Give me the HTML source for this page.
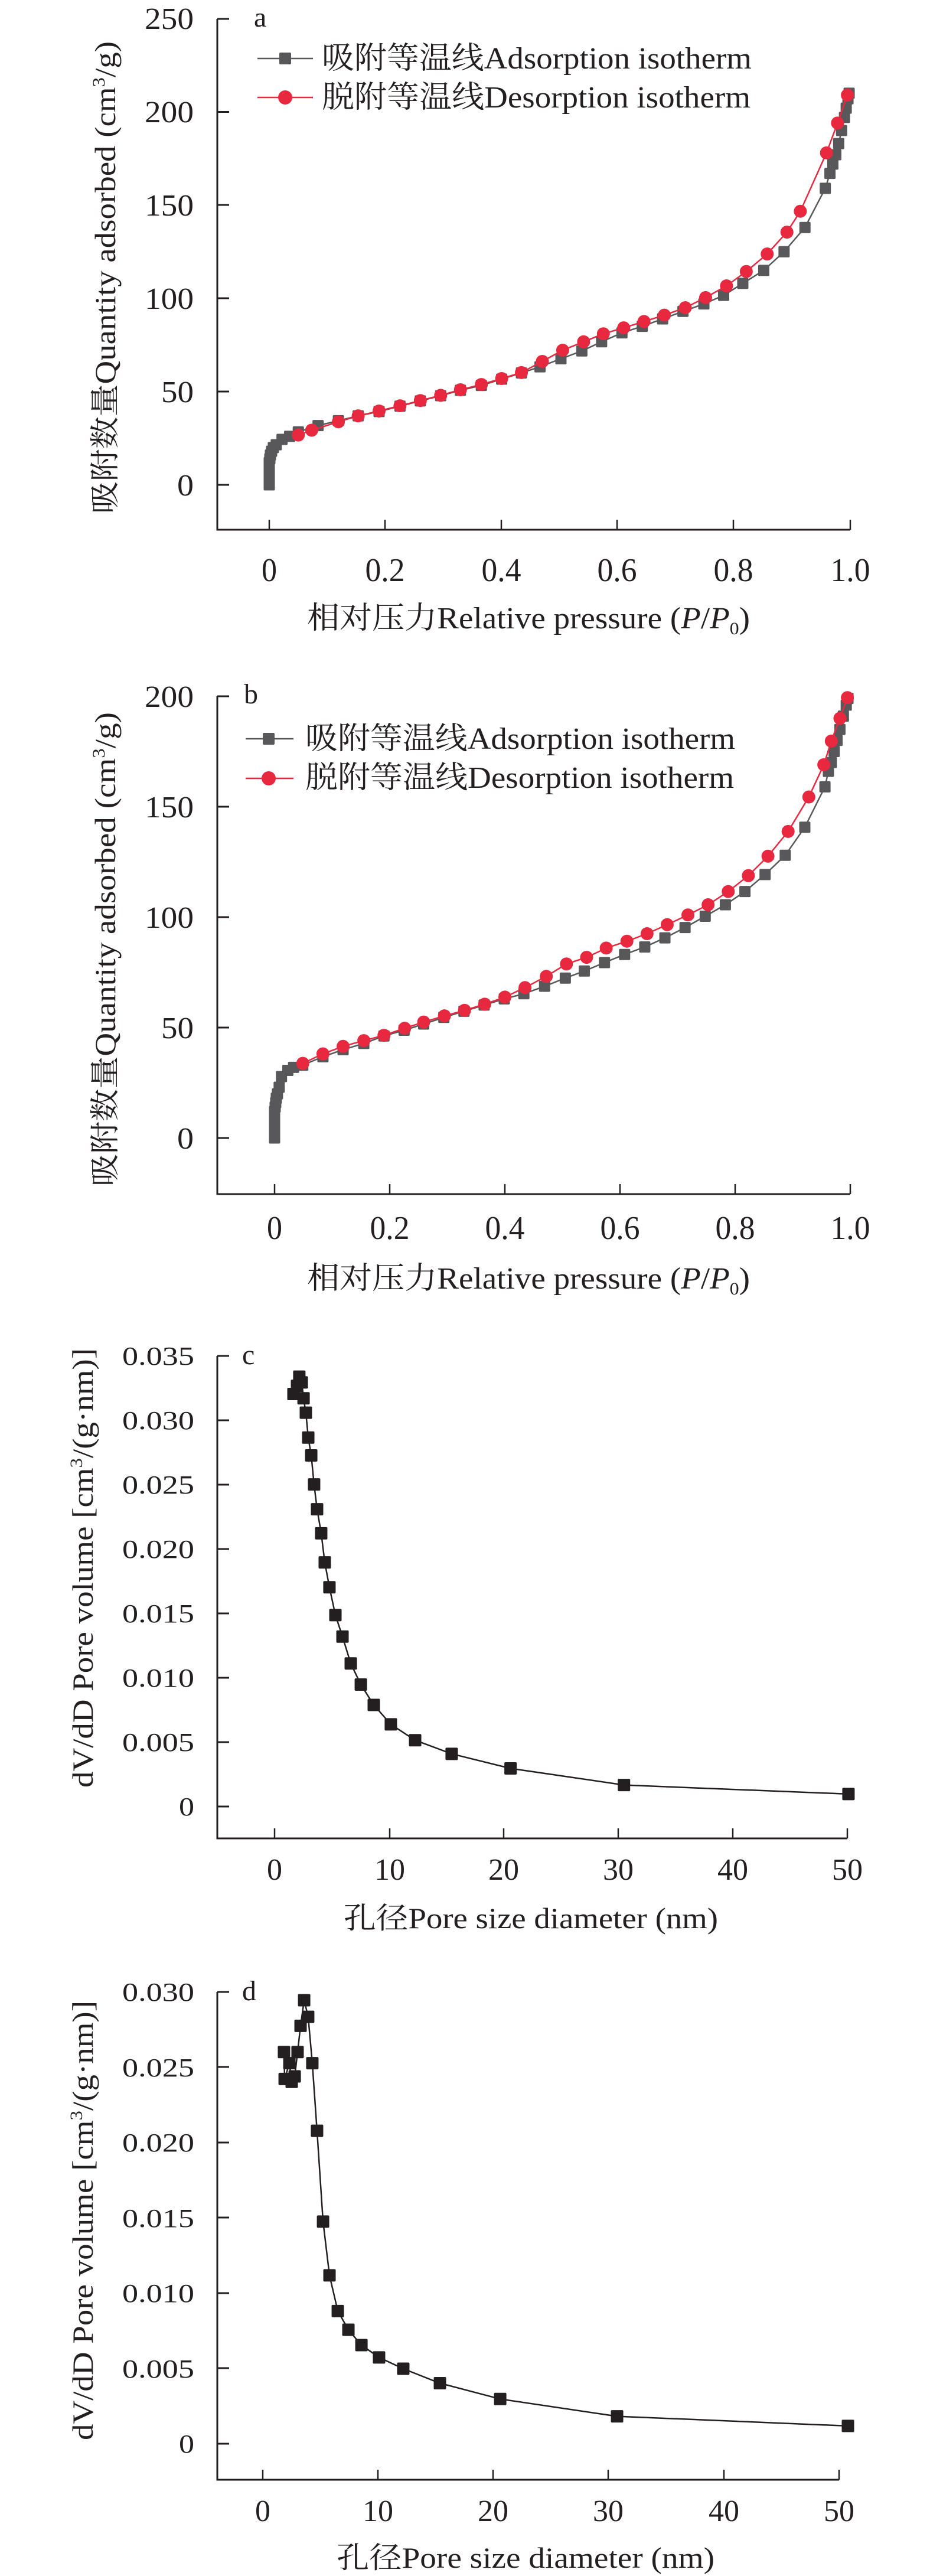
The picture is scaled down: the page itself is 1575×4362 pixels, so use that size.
<!DOCTYPE html>
<html><head><meta charset="utf-8"><style>
html,body{margin:0;padding:0;background:#fff}
svg{display:block}
text{font-family:"Liberation Serif","Noto Serif CJK SC","Noto Sans CJK SC",serif;fill:#231f20}
</style></head><body>
<svg id="s" xmlns="http://www.w3.org/2000/svg" width="1575" height="4362" viewBox="0 0 1575 4362">
<g id="g"></g>
<!-- Chart a texts -->
<g font-size="52" text-anchor="end">
<text x="328" y="49" textLength="83" lengthAdjust="spacingAndGlyphs">250</text>
<text x="328" y="207" textLength="83" lengthAdjust="spacingAndGlyphs">200</text>
<text x="328" y="365" textLength="83" lengthAdjust="spacingAndGlyphs">150</text>
<text x="328" y="523" textLength="83" lengthAdjust="spacingAndGlyphs">100</text>
<text x="328" y="681" textLength="55" lengthAdjust="spacingAndGlyphs">50</text>
<text x="328" y="839" textLength="28" lengthAdjust="spacingAndGlyphs">0</text>
</g>
<g font-size="56" text-anchor="middle">
<text x="456" y="984" textLength="26" lengthAdjust="spacingAndGlyphs">0</text><text x="652" y="984" textLength="67" lengthAdjust="spacingAndGlyphs">0.2</text><text x="849" y="984" textLength="67" lengthAdjust="spacingAndGlyphs">0.4</text>
<text x="1045" y="984" textLength="67" lengthAdjust="spacingAndGlyphs">0.6</text><text x="1242" y="984" textLength="67" lengthAdjust="spacingAndGlyphs">0.8</text><text x="1440" y="984" textLength="67" lengthAdjust="spacingAndGlyphs">1.0</text>
</g>
<text x="430" y="45" font-size="48">a</text>
<text x="545" y="116" font-size="52" textLength="728" lengthAdjust="spacingAndGlyphs">吸附等温线Adsorption isotherm</text>
<text x="545" y="182" font-size="52" textLength="726" lengthAdjust="spacingAndGlyphs">脱附等温线Desorption isotherm</text>
<text x="520" y="1064" font-size="52" textLength="750" lengthAdjust="spacingAndGlyphs">相对压力Relative pressure (<tspan font-style="italic">P</tspan>/<tspan font-style="italic">P</tspan><tspan font-size="30" dy="10">0</tspan><tspan dy="-10">)</tspan></text>
<text transform="translate(195,870) rotate(-90)" font-size="50" textLength="800" lengthAdjust="spacingAndGlyphs">吸附数量Quantity adsorbed (cm<tspan font-size="30" dy="-18">3</tspan><tspan dy="18">/g)</tspan></text>

<!-- Chart b texts -->
<g font-size="52" text-anchor="end">
<text x="328" y="1197" textLength="83" lengthAdjust="spacingAndGlyphs">200</text>
<text x="328" y="1384" textLength="83" lengthAdjust="spacingAndGlyphs">150</text>
<text x="328" y="1571" textLength="83" lengthAdjust="spacingAndGlyphs">100</text>
<text x="328" y="1758" textLength="55" lengthAdjust="spacingAndGlyphs">50</text>
<text x="328" y="1945" textLength="28" lengthAdjust="spacingAndGlyphs">0</text>
</g>
<g font-size="56" text-anchor="middle">
<text x="465" y="2098" textLength="26" lengthAdjust="spacingAndGlyphs">0</text><text x="660" y="2098" textLength="67" lengthAdjust="spacingAndGlyphs">0.2</text><text x="855" y="2098" textLength="67" lengthAdjust="spacingAndGlyphs">0.4</text>
<text x="1050" y="2098" textLength="67" lengthAdjust="spacingAndGlyphs">0.6</text><text x="1245" y="2098" textLength="67" lengthAdjust="spacingAndGlyphs">0.8</text><text x="1440" y="2098" textLength="67" lengthAdjust="spacingAndGlyphs">1.0</text>
</g>
<text x="413" y="1191" font-size="48">b</text>
<text x="517" y="1268" font-size="52" textLength="728" lengthAdjust="spacingAndGlyphs">吸附等温线Adsorption isotherm</text>
<text x="517" y="1334" font-size="52" textLength="726" lengthAdjust="spacingAndGlyphs">脱附等温线Desorption isotherm</text>
<text x="520" y="2182" font-size="52" textLength="750" lengthAdjust="spacingAndGlyphs">相对压力Relative pressure (<tspan font-style="italic">P</tspan>/<tspan font-style="italic">P</tspan><tspan font-size="30" dy="10">0</tspan><tspan dy="-10">)</tspan></text>
<text transform="translate(195,2009) rotate(-90)" font-size="50" textLength="803" lengthAdjust="spacingAndGlyphs">吸附数量Quantity adsorbed (cm<tspan font-size="30" dy="-18">3</tspan><tspan dy="18">/g)</tspan></text>

<!-- Chart c texts -->
<g font-size="44" text-anchor="end">
<text x="329" y="2311" textLength="122" lengthAdjust="spacingAndGlyphs">0.035</text>
<text x="329" y="2420" textLength="122" lengthAdjust="spacingAndGlyphs">0.030</text>
<text x="329" y="2529" textLength="122" lengthAdjust="spacingAndGlyphs">0.025</text>
<text x="329" y="2638" textLength="122" lengthAdjust="spacingAndGlyphs">0.020</text>
<text x="329" y="2747" textLength="122" lengthAdjust="spacingAndGlyphs">0.015</text>
<text x="329" y="2856" textLength="122" lengthAdjust="spacingAndGlyphs">0.010</text>
<text x="329" y="2965" textLength="122" lengthAdjust="spacingAndGlyphs">0.005</text>
<text x="329" y="3074" textLength="26" lengthAdjust="spacingAndGlyphs">0</text>
</g>
<g font-size="52" text-anchor="middle">
<text x="465" y="3183">0</text><text x="660" y="3183">10</text><text x="853" y="3183">20</text>
<text x="1047" y="3183">30</text><text x="1241" y="3183">40</text><text x="1435" y="3183">50</text>
</g>
<text x="410" y="2310" font-size="48">c</text>
<text x="582" y="3265" font-size="50" textLength="634" lengthAdjust="spacingAndGlyphs">孔径Pore size diameter (nm)</text>
<text transform="translate(157,3027) rotate(-90)" font-size="50" textLength="744" lengthAdjust="spacingAndGlyphs">dV/dD Pore volume [cm<tspan font-size="30" dy="-18">3</tspan><tspan dy="18">/(g·nm)]</tspan></text>

<!-- Chart d texts -->
<g font-size="44" text-anchor="end">
<text x="329" y="3388" textLength="122" lengthAdjust="spacingAndGlyphs">0.030</text>
<text x="329" y="3516" textLength="122" lengthAdjust="spacingAndGlyphs">0.025</text>
<text x="329" y="3643" textLength="122" lengthAdjust="spacingAndGlyphs">0.020</text>
<text x="329" y="3771" textLength="122" lengthAdjust="spacingAndGlyphs">0.015</text>
<text x="329" y="3898" textLength="122" lengthAdjust="spacingAndGlyphs">0.010</text>
<text x="329" y="4026" textLength="122" lengthAdjust="spacingAndGlyphs">0.005</text>
<text x="329" y="4153" textLength="26" lengthAdjust="spacingAndGlyphs">0</text>
</g>
<g font-size="52" text-anchor="middle">
<text x="445" y="4269">0</text><text x="640" y="4269">10</text><text x="835" y="4269">20</text>
<text x="1030" y="4269">30</text><text x="1226" y="4269">40</text><text x="1421" y="4269">50</text>
</g>
<text x="410" y="3387" font-size="48">d</text>
<text x="570" y="4348" font-size="50" textLength="640" lengthAdjust="spacingAndGlyphs">孔径Pore size diameter (nm)</text>
<text transform="translate(157,4132) rotate(-90)" font-size="50" textLength="744" lengthAdjust="spacingAndGlyphs">dV/dD Pore volume [cm<tspan font-size="30" dy="-18">3</tspan><tspan dy="18">/(g·nm)]</tspan></text>
</svg>
<script>
(function(){
var NS="http://www.w3.org/2000/svg",g=document.getElementById('g');
function el(t,a){var e=document.createElementNS(NS,t);for(var k in a)e.setAttribute(k,a[k]);g.appendChild(e);return e;}
function axes(top,axisY,x0,x1,yt,xt){
 el('path',{d:'M368 '+top+' V'+axisY+' H'+x1,fill:'none',stroke:'#231f20','stroke-width':3});
 yt.forEach(function(y){el('line',{x1:368,x2:388,y1:y,y2:y,stroke:'#231f20','stroke-width':3});});
 xt.forEach(function(x){el('line',{x1:x,x2:x,y1:axisY,y2:axisY-17,stroke:'#231f20','stroke-width':2.5});});
}
function series(pts,fx,fy,col,mk,sz){
 var d=pts.map(function(p,i){return (i?'L':'M')+fx(p[0]).toFixed(1)+' '+fy(p[1]).toFixed(1);}).join(' ');
 el('path',{d:d,fill:'none',stroke:col,'stroke-width':2.5});
 pts.forEach(function(p){var x=fx(p[0]),y=fy(p[1]);
  if(mk=='s')el('rect',{x:x-sz/2,y:y-sz/2,width:sz,height:sz,rx:2,fill:col});
  else el('circle',{cx:x,cy:y,r:sz,fill:col});});
}
var GR='#58585a',RD='#e8283f',BK='#231f20';
axes(32,897,368,1440,[32,189.5,347,505,663,821],[456,652,849,1045,1242,1440]);
var fxa=function(v){return 456+v*984;},fya=function(v){return 821-v*3.158;};
var adsA=[[0,0],[0,2],[0,4],[0,6],[0,8],[0,10],[0,12],[0.001,14],[0.002,16],[0.004,18],[0.007,20],[0.012,21.5],[0.022,24.4],[0.035,26],[0.05,28.4],[0.084,31.8],[0.119,34.4],[0.153,37],[0.189,39.3],[0.225,42.2],[0.26,45],[0.295,47.8],[0.329,50.7],[0.365,53.3],[0.4,56.7],[0.434,60],[0.466,63.3],[0.502,67.6],[0.538,71.8],[0.572,76.7],[0.607,81.5],[0.642,85],[0.677,89],[0.712,93],[0.748,97],[0.782,101.6],[0.815,108],[0.851,115],[0.886,125],[0.922,138],[0.957,159],[0.965,167],[0.97,172],[0.975,177],[0.98,183],[0.985,190],[0.99,197],[0.993,202],[0.996,207],[0.998,210]];
var desA=[[0.05,26.7],[0.073,29.3],[0.119,33.8],[0.153,37],[0.189,39.6],[0.225,42.4],[0.26,45.2],[0.295,48],[0.329,51],[0.365,53.8],[0.4,57],[0.434,60.2],[0.47,66.2],[0.505,72.2],[0.541,76.7],[0.575,81],[0.61,84.2],[0.645,87.6],[0.68,91],[0.716,95],[0.751,100.4],[0.787,106.7],[0.821,114.4],[0.857,123.8],[0.891,135.5],[0.914,146.7],[0.959,178],[0.978,194],[0.995,209]];
series(adsA,fxa,fya,GR,'s',19);
series(desA,fxa,fya,RD,'c',11);
el('line',{x1:436,x2:530,y1:99,y2:99,stroke:GR,'stroke-width':2.5});el('rect',{x:473,y:89,width:20,height:20,rx:2,fill:GR});
el('line',{x1:436,x2:530,y1:165,y2:165,stroke:RD,'stroke-width':2.5});el('circle',{cx:483,cy:165,r:12,fill:RD});
axes(1179,2022,368,1440,[1179,1366,1553,1740,1927],[465,660,855,1050,1245,1440]);
var fxb=function(v){return 465+v*975;},fyb=function(v){return 1927-v*3.74;};
var adsB=[[0,0],[0,2],[0,4],[0,6],[0,8],[0,10],[0,12],[0.001,14],[0.002,16],[0.003,18],[0.005,20],[0.008,23],[0.012,27.8],[0.023,30.6],[0.033,32],[0.049,33],[0.084,36.8],[0.119,40],[0.155,42.8],[0.19,46.2],[0.225,48.8],[0.259,51.6],[0.294,54.6],[0.329,57.4],[0.364,60.2],[0.399,63],[0.433,65.3],[0.469,68.7],[0.505,72.4],[0.538,75.6],[0.573,79.4],[0.608,83.1],[0.643,86.5],[0.678,90.6],[0.713,95.3],[0.748,100.4],[0.783,105.6],[0.817,111.6],[0.852,119.3],[0.887,128],[0.921,140.7],[0.956,159],[0.962,166],[0.967,170],[0.972,175],[0.977,180],[0.982,185],[0.988,191],[0.993,196],[0.996,199]];
var desB=[[0.049,33.8],[0.084,38.1],[0.119,41.5],[0.155,44.1],[0.19,46.5],[0.226,49.7],[0.259,52.5],[0.295,55.3],[0.33,57.8],[0.365,60.6],[0.4,63.8],[0.435,68.1],[0.472,73.2],[0.507,78.8],[0.542,81.8],[0.576,86],[0.612,89.1],[0.647,92.5],[0.682,96.6],[0.718,101],[0.753,105.6],[0.788,111.6],[0.823,118.8],[0.857,127.6],[0.892,138.8],[0.928,154.4],[0.954,169],[0.967,179.7],[0.982,190],[0.995,199.4]];
series(adsB,fxb,fyb,GR,'s',19);
series(desB,fxb,fyb,RD,'c',11);
el('line',{x1:416,x2:497,y1:1251,y2:1251,stroke:GR,'stroke-width':2.5});el('rect',{x:445,y:1241,width:20,height:20,rx:2,fill:GR});
el('line',{x1:416,x2:497,y1:1318,y2:1318,stroke:RD,'stroke-width':2.5});el('circle',{cx:455,cy:1318,r:12,fill:RD});
axes(2296,3113,368,1435,[2296,2405,2514,2623,2732,2841,2950,3059],[465,660,853,1047,1241,1435]);
var fxc=function(v){return 465+v*19.4;},fyc=function(v){return 3059-v*21800;};
var C=[[1.65,.03204],[1.96,.03268],[2.16,.03339],[2.37,.03294],[2.53,.03171],[2.73,.03059],[2.94,.02866],[3.2,.02727],[3.45,.02502],[3.71,.02309],[4.07,.02122],[4.38,.01896],[4.79,.01703],[5.31,.01487],[5.93,.0132],[6.65,.01111],[7.53,.00947],[8.66,.00789],[10.15,.00638],[12.27,.00515],[15.46,.00409],[20.6,.00296],[30.5,.00167],[50.1,.00097]];
series(C,fxc,fyc,BK,'s',21);
axes(3373,4199,368,1421,[3373,3500,3628,3755,3883,4010,4138],[445,640,835,1030,1226,1421]);
var fxd=function(v){return 445+v*19.52;},fyd=function(v){return 4138-v*25500;};
var D=[[1.84,.02601],[1.9,.02422],[2.31,.02527],[2.51,.02403],[2.77,.02439],[3.02,.02601],[3.28,.02775],[3.59,.02945],[3.94,.02835],[4.3,.02527],[4.71,.02078],[5.23,.01475],[5.79,.01118],[6.51,.00881],[7.43,.00757],[8.56,.00655],[10.09,.00573],[12.19,.00498],[15.37,.00402],[20.6,.00297],[30.74,.00182],[50.77,.00118]];
series(D,fxd,fyd,BK,'s',21);
})();
</script>
</body></html>
